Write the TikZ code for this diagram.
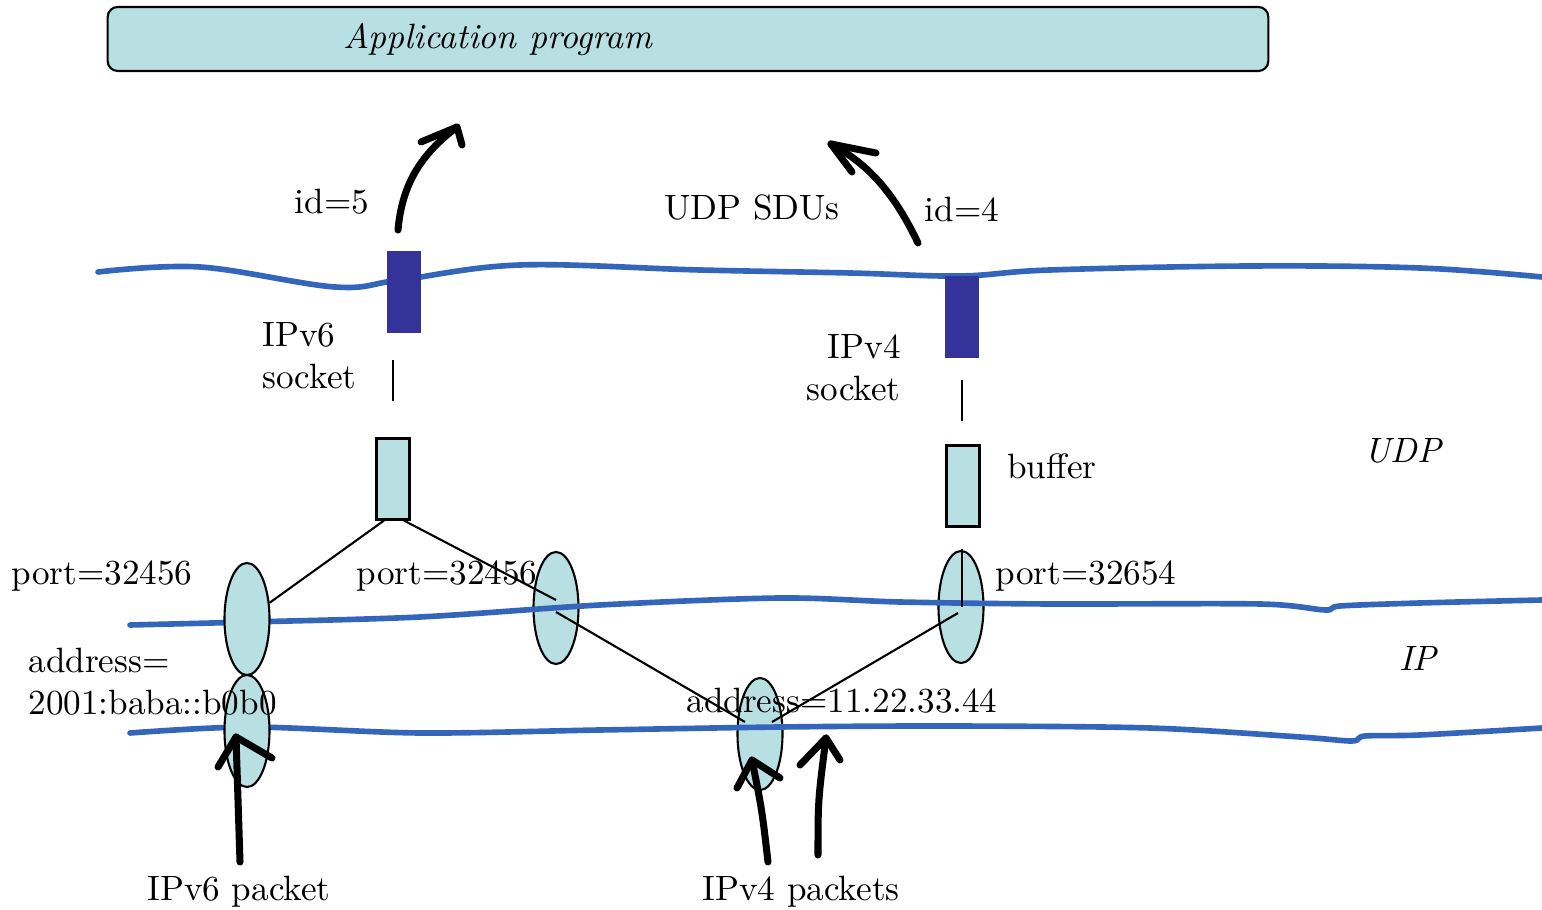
\documentclass[tikz,border=0pt]{standalone}
\usepackage{tikz}
\usetikzlibrary{shapes.geometric}
\definecolor{lightcyan}{HTML}{B8DFE2}
\definecolor{layerblue}{HTML}{3366BB}
\definecolor{sockblue}{HTML}{333399}

\begin{document}
\begin{tikzpicture}[x=0.01cm, y=-0.01cm,
  endpt/.style={draw, semithick, fill=lightcyan, ellipse, minimum width=0.45cm, minimum height=1.12cm, inner sep=0pt},
  bufbox/.style={draw, semithick, fill=lightcyan, minimum width=0.33cm, minimum height=0.81cm, inner sep=0pt},
  sockbox/.style={fill=sockblue, minimum width=0.34cm, minimum height=0.81cm, inner sep=0pt},
  layerline/.style={layerblue, line width=1.6pt, line cap=round},
  handarrow/.style={line width=2pt, line cap=round, line join=round}]
\useasboundingbox (0,0) rectangle (1542,910);
%
\node[draw, semithick, fill=lightcyan, rounded corners=0.1cm, minimum width=11.6cm, minimum height=0.64cm, inner sep=0pt] (app) at (688,39) {};
\node[font=\itshape] (apptext) at (498,40) {Application program};
%
\node[endpt] (e3) at (556,608) {};
\node[endpt] (e4) at (760,734) {};
\node[endpt] (e5) at (961,607) {};
%
\draw [layerline] plot[smooth, tension=0.6] coordinates {(98,272) (200,267) (335,287) (400,280) (520,265) (700,270) (850,273) (960,276) (1050,270) (1250,266) (1420,268) (1542,277)};
\draw [layerline] plot[smooth, tension=0.5] coordinates {(130,625) (250,622) (420,617) (600,605) (780,598) (900,602) (1050,604) (1260,604) (1325,610) (1340,606) (1420,603) (1542,600)};
\draw [layerline] plot[smooth, tension=0.5] coordinates {(130,733) (250,727) (420,733) (600,730) (780,727) (950,726) (1150,728) (1300,737) (1352,741) (1365,736) (1420,735) (1542,728)};
%
\node[endpt] (e1) at (247,619) {};
\node[endpt] (e2) at (247,731) {};
%
\node[sockbox] (sock6) at (404,292) {};
\node[sockbox] (sock4) at (962,317) {};
\node[bufbox] (buf6) at (393,479) {};
\node[bufbox] (buf4) at (963,486) {};
%
\draw [semithick] ([yshift=0.36cm]buf6.north) -- ([yshift=0.77cm]buf6.north);
\draw [semithick] ([xshift=-0.01cm, yshift=0.23cm]buf4.north) -- ([xshift=-0.01cm, yshift=0.64cm]buf4.north);
\draw [semithick] ([yshift=-0.21cm, xshift=-0.01cm]buf4.south) -- ([xshift=0.01cm]e5.center);
%
\draw [semithick] ([xshift=-0.09cm]buf6.south) -- (e1);
\draw [semithick] ([xshift=0.11cm]buf6.south) -- ([yshift=0.08cm]e3.center);
\draw [semithick] ([yshift=-0.04cm]e3.center) -- ([xshift=-0.15cm, yshift=0.12cm]e4.center);
\draw [semithick] ([xshift=0.12cm, yshift=0.12cm]e4.center) -- ([xshift=-0.03cm, yshift=-0.06cm]e5.center);
%
\node (id5) at (332,202) {id=5};
\node (sdus) at (752,207) {UDP SDUs};
\node (id4) at (962,209) {id=4};
\node[anchor=west, align=left] (sock6lbl) at (250,356) {IPv6\\socket};
\node[anchor=east, align=right] (sock4lbl) at (913,368) {IPv4\\socket};
\node[anchor=west] (buflbl) at (995,466) {buffer};
\node[font=\itshape] (udp) at (1403,451) {UDP};
\node[font=\itshape] (ip) at (1418,658) {IP};
\node (port1) at (102,576) {port=32456};
\node (port2) at (447,576) {port=32456};
\node (port3) at (1086,576) {port=32654};
\node[anchor=west, align=left] (addr6) at (16,682) {address=\\2001:baba::b0b0};
\node (addr4) at (842,701) {address=11.22.33.44};
\node (pk6) at (239,892) {IPv6 packet};
\node (pk4) at (801,892) {IPv4 packets};
%
\coordinate (a6s) at (398,230);
\coordinate (a6t) at (457,127);
\draw [handarrow] (a6s) .. controls (402,185) and (420,155) .. (a6t);
\draw [handarrow] (421,142) -- (a6t) -- (462,145);
%
\coordinate (a4s) at (918,243);
\coordinate (a4t) at (831,144);
\draw [handarrow] (a4s) .. controls (895,195) and (870,165) .. (a4t);
\draw [handarrow] (852,172) -- (a4t) -- (876,153);
%
\coordinate (p6s) at (240,862);
\coordinate (p6t) at (236,737);
\draw [handarrow] (p6s) .. controls (238,800) .. (p6t);
\draw [handarrow] (218,767) -- (p6t) -- (272,758);
%
\coordinate (p4s) at (768,862);
\coordinate (p4t) at (752,760);
\draw [handarrow] (p4s) .. controls (762,810) .. (p4t);
\draw [handarrow] (737,788) -- (p4t) -- (780,778);
%
\coordinate (q4s) at (818,855);
\coordinate (q4t) at (826,738);
\draw [handarrow] (q4s) .. controls (818,800) .. (q4t);
\draw [handarrow] (800,765) -- (q4t) -- (840,760);
%%%%%%%%%%%%%%%%%%%%%%%%%%%%%%%
\end{tikzpicture}
\end{document}
